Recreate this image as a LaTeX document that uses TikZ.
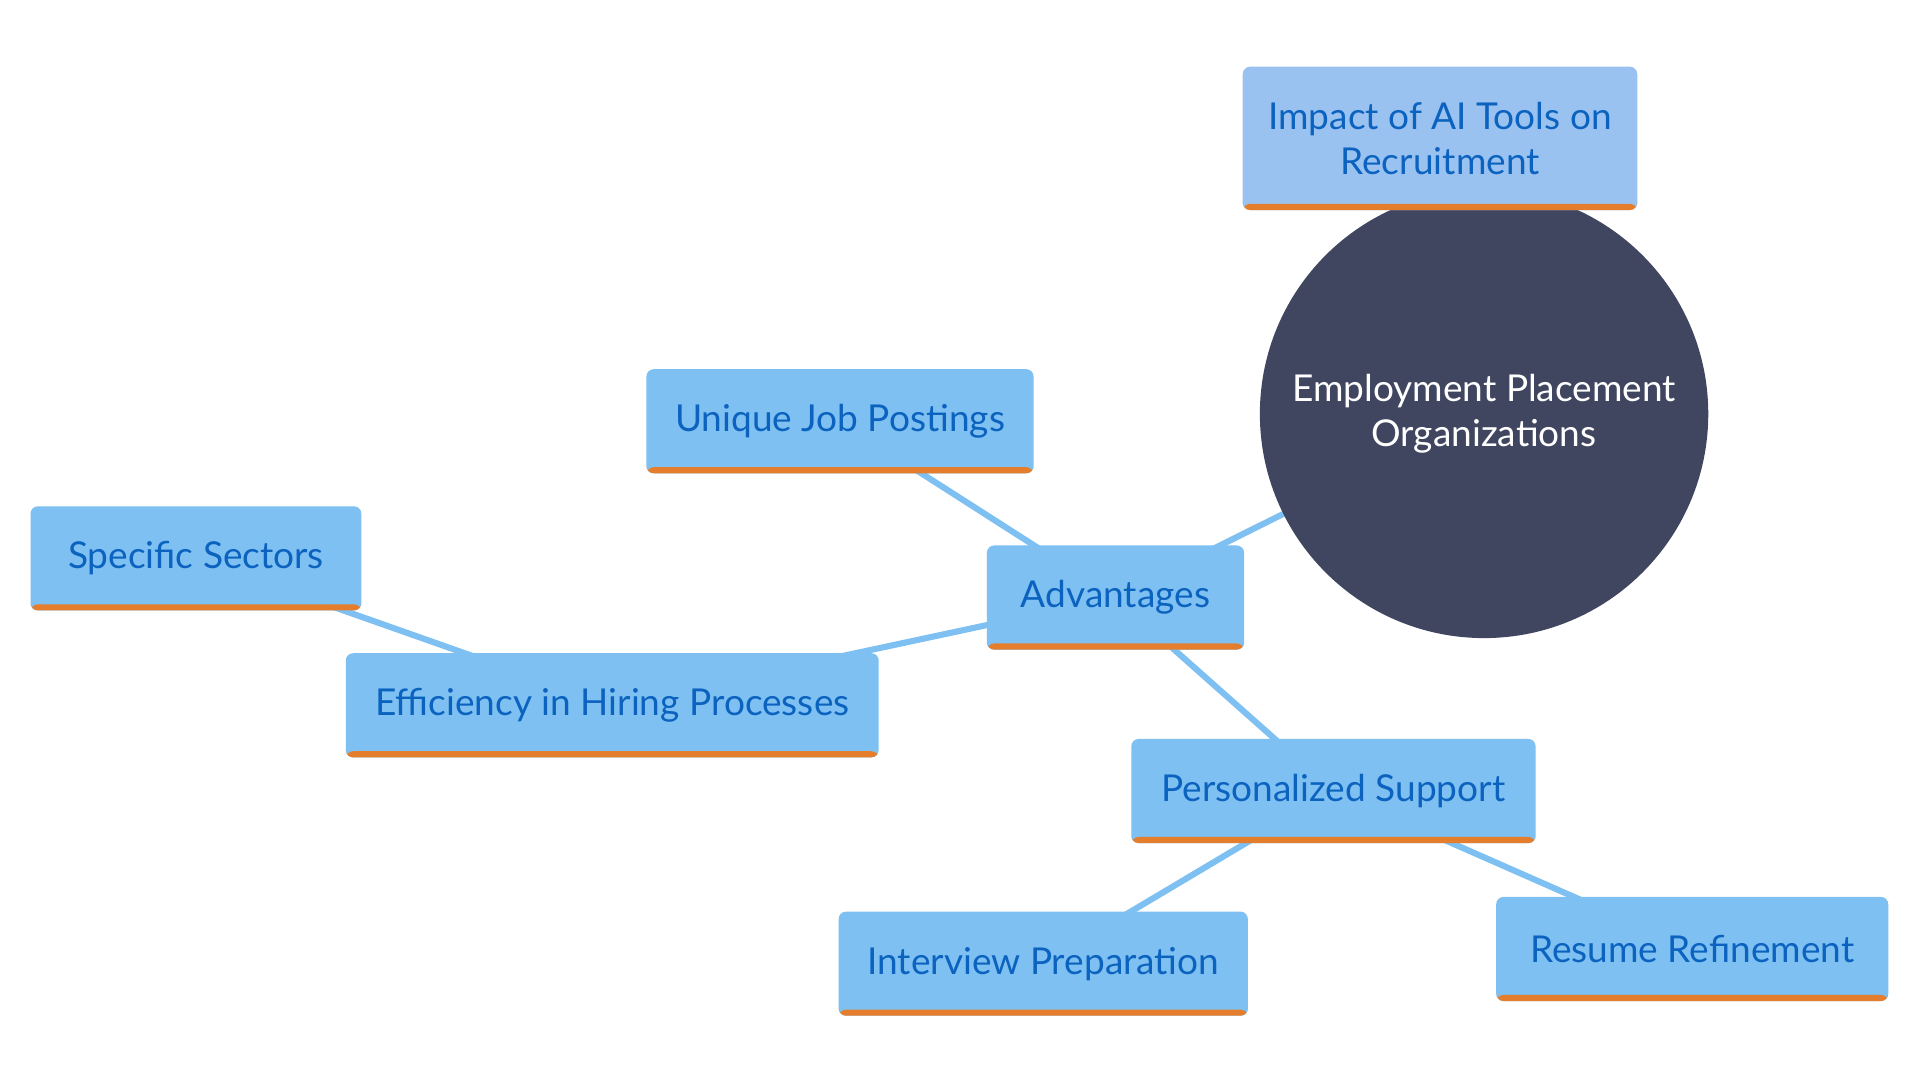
\documentclass[tikz,border=0pt]{standalone}
\usepackage{fontspec}
\setmainfont{Lato}
\usetikzlibrary{positioning,backgrounds}
\definecolor{boxblue}{HTML}{7DC0F1}
\definecolor{topblue}{HTML}{9AC2F0}
\definecolor{txtblue}{HTML}{0B62BF}
\definecolor{stripe}{HTML}{E57E2C}
\definecolor{hub}{HTML}{404660}
\tikzset{
  topic/.style={fill=boxblue, text=txtblue, rounded corners=0.06cm, inner sep=0pt,
    font=\fontsize{8.6}{10.5}\selectfont, align=center, minimum height=0.85cm,
    path picture={\fill[stripe] (path picture bounding box.south west) rectangle ([yshift=0.05cm]path picture bounding box.south east);}},
  link/.style={draw=boxblue, line width=0.05cm}
}
\begin{document}
\begin{tikzpicture}[x=0.01cm, y=-0.01cm]
    \useasboundingbox (0,0) rectangle (1568,882);

    % hub
    \node[circle, fill=hub, text=white, minimum size=3.66cm, align=center,
      font=\fontsize{8.6}{10.5}\selectfont] (org) at (1212,338) {Employment Placement\\Organizations};

    % topics
    \node[topic, fill=topblue, minimum width=3.22cm, minimum height=1.17cm] (impact) at (1176,113) {Impact of AI Tools on\\Recruitment};
    \node[topic, minimum width=2.1cm]  (adv)  at (911,488) {Advantages};
    \node[topic, minimum width=3.16cm] (uniq) at (686,344) {Unique Job Postings};
    \node[topic, minimum width=4.35cm] (eff)  at (500,576) {Efficiency in Hiring Processes};
    \node[topic, minimum width=2.7cm]  (spec) at (160,456) {Specific Sectors};
    \node[topic, minimum width=3.3cm]  (pers) at (1089,646) {Personalized Support};
    \node[topic, minimum width=3.34cm] (intv) at (852,787) {Interview Preparation};
    \node[topic, minimum width=3.2cm]  (res)  at (1382,775) {Resume Refinement};

    % links
    \begin{scope}[on background layer]
        \draw[link] (org.center) -- (adv.center);
        \draw[link] (adv.center) -- (uniq.center);
        \draw[link] (adv.center) -- (eff.center);
        \draw[link] (eff.center) -- (spec.center);
        \draw[link] (adv.center) -- (pers.center);
        \draw[link] (pers.center) -- (intv.center);
        \draw[link] (pers.center) -- (res.center);
    \end{scope}
\end{tikzpicture}
\end{document}
